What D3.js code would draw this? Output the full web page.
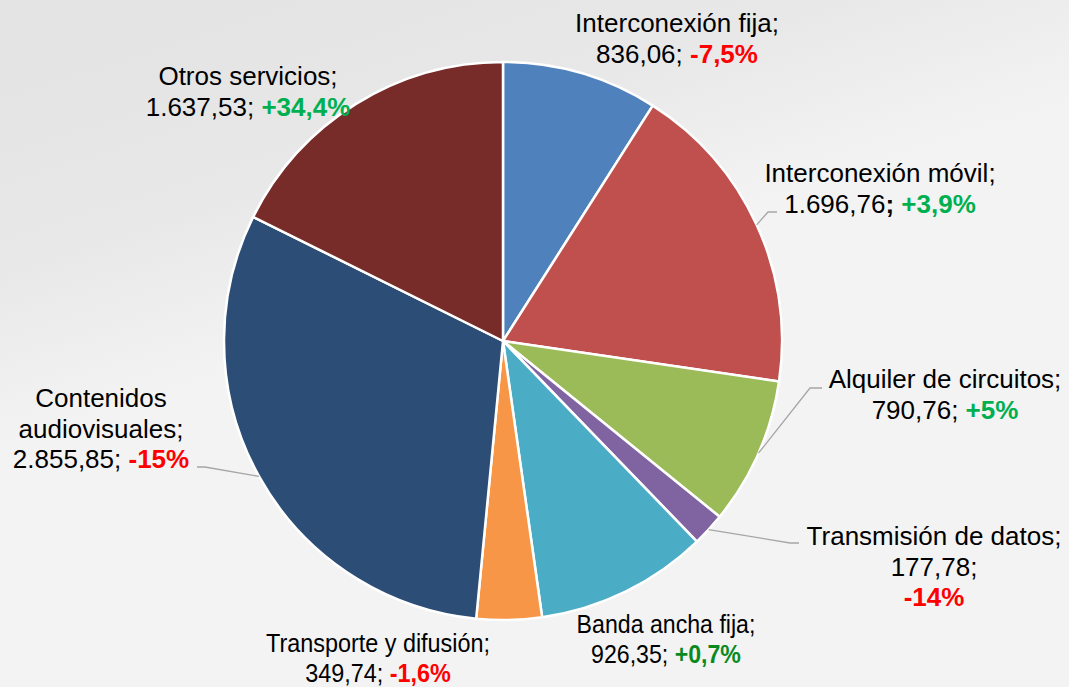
<!DOCTYPE html>
<html>
<head>
<meta charset="utf-8">
<script src="https://cdn.jsdelivr.net/npm/d3@7"></script>
<style>
  html, body { margin: 0; padding: 0; overflow: hidden; }
  svg { display: block; font-family: "Liberation Sans", Arial, sans-serif; }
</style>
</head>
<body>
<div id="chart"></div>
<script>
const width = 1069
const height = 687

// datos
const categorias = ["Interconexión fija", "Interconexión móvil", "Alquiler de circuitos", "Transmisión de datos",
                    "Banda ancha fija", "Transporte y difusión", "Contenidos audiovisuales", "Otros servicios"]
const valores = [836.06, 1696.76, 790.76, 177.78, 926.35, 349.74, 2855.85, 1637.53]
const variaciones = [-7.5, 3.9, 5, -14, 0.7, -1.6, -15, 34.4]
const colores = ["#4f81bd", "#c0504d", "#9bbb59", "#8064a2", "#4bacc6", "#f79646", "#2c4d75", "#772c2a"]

// layout de etiquetas (centro x, baseline de la primera linea, lineas)
const etiquetas = [
  {x: 677, y: 32, lineas: [["nombre"], ["valor", "var"]]},
  {x: 880, y: 182, lineas: [["nombre"], ["valor", "var"]], puntoNegrita: true},
  {x: 945, y: 388, lineas: [["nombre"], ["valor", "var"]]},
  {x: 934, y: 545, lineas: [["nombre"], ["valor"], ["var"]]},
  {x: 666, y: 633, lineas: [["nombre"], ["valor", "var"]], verde: "#0a8a1e", escalaX: 0.89},
  {x: 378, y: 652, lineas: [["nombre"], ["valor", "var"]], escalaX: 0.9},
  {x: 101, y: 407, lineas: [["Contenidos"], ["audiovisuales;"], ["valor", "var"]]},
  {x: 248, y: 85, lineas: [["nombre"], ["valor", "var"]]}
]
// lineas guia: codos
const guias = {
  1: [[768, 212], [777, 212]],
  2: [[810, 388], [822, 388]],
  3: [[790, 543], [799, 543]],
  6: [[205, 467], [197, 467]]
}

const cx = 503, cy = 341, radio = 279
const lineH = 30.5

const es = d3.formatLocale({decimal: ",", thousands: ".", grouping: [3], currency: ["", "€"], minus: "-"})
const fmtValor = es.format(",.2f")
const fmtVar = es.format("+~r")

const svg = d3.select("div#chart").append("svg").attr("width", width).attr("height", height)

const defs = svg.append("defs")
const grad = defs.append("linearGradient").attr("id", "fondo")
    .attr("x1", "0.25").attr("y1", "0").attr("x2", "0.55").attr("y2", "0.6")
grad.append("stop").attr("offset", "0").attr("stop-color", "#e4e4e4")
grad.append("stop").attr("offset", "0.35").attr("stop-color", "#e8e8e8")
grad.append("stop").attr("offset", "0.7").attr("stop-color", "#f3f3f3")
grad.append("stop").attr("offset", "1").attr("stop-color", "#f3f3f3")
svg.append("rect").attr("width", width).attr("height", height).attr("fill", "url(#fondo)")

const datos = categorias.map((c, i) => ({nombre: c, valor: valores[i], variacion: variaciones[i], i: i}))

const pie = d3.pie().value(d => d.valor).sort(null)
const arc = d3.arc().innerRadius(0).outerRadius(radio)
const arcos = pie(datos)

const pieGroup = svg.append("g").attr("transform", `translate(${cx}, ${cy})`)
pieGroup.selectAll("path").data(arcos).enter()
    .append("path")
    .attr("d", arc)
    .attr("fill", d => colores[d.data.i])
    .attr("stroke", "#ffffff")
    .attr("stroke-width", 2.5)
    .attr("stroke-linejoin", "round")

// lineas guia
const guiaGroup = svg.append("g")
Object.keys(guias).forEach(k => {
  const a = arcos[+k]
  const ang = (a.startAngle + a.endAngle) / 2
  const p0 = [cx + radio * Math.sin(ang), cy - radio * Math.cos(ang)]
  guiaGroup.append("path")
      .attr("d", d3.line()([p0, ...guias[k]]))
      .attr("fill", "none")
      .attr("stroke", "#a6a6a6")
      .attr("stroke-width", 1.3)
})

// etiquetas
const labelGroup = svg.append("g").attr("font-size", "26px").attr("fill", "#000")
datos.forEach((d, i) => {
  const e = etiquetas[i]
  const t = labelGroup.append("text").attr("text-anchor", "middle")
      .attr("transform", `translate(${e.x}, 0) scale(${e.escalaX || 1}, 1)`)
  e.lineas.forEach((linea, j) => {
    linea.forEach((parte, k) => {
      const ts = t.append("tspan")
      if (k === 0) ts.attr("x", 0).attr("y", e.y + j * lineH)
      if (parte === "nombre") ts.text(d.nombre + ";")
      else if (parte === "valor") {
        ts.text(fmtValor(d.valor))
        const pc = t.append("tspan").text(";")
        if (e.puntoNegrita) pc.attr("font-weight", "bold")
        if (linea.length > 1) t.append("tspan").text(" ")
      }
      else if (parte === "var") {
        ts.text(fmtVar(d.variacion) + "%")
          .attr("font-weight", "bold")
          .attr("fill", d.variacion < 0 ? "#ff0000" : (e.verde || "#00b050"))
      }
      else ts.text(parte)
    })
  })
})
</script>
</body>
</html>
